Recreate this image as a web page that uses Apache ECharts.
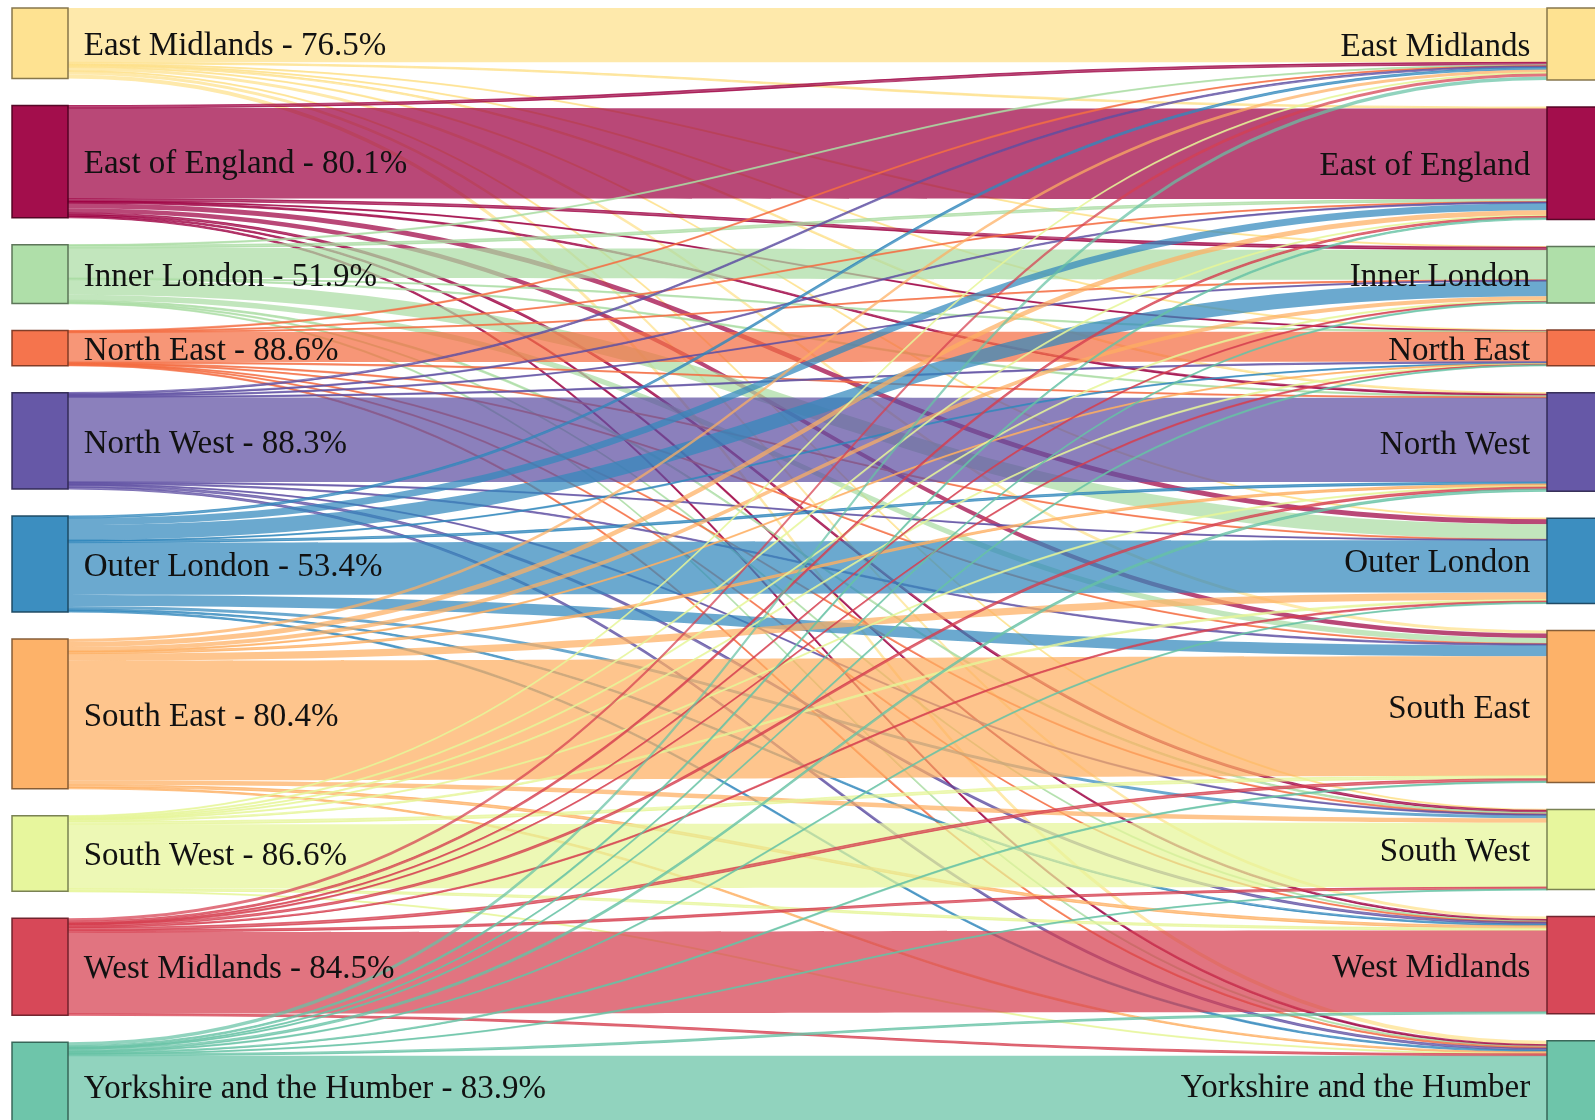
<!DOCTYPE html>
<html><head><meta charset="utf-8">
<script src="https://cdn.jsdelivr.net/npm/echarts@6/dist/echarts.min.js"></script>
<style>html,body{margin:0;padding:0;background:#fff;overflow:hidden}#c{width:1595px;height:1120px}</style>
</head><body><div id="c"></div>
<script>
// Regions (same order on both sides)
const regions = ['East Midlands','East of England','Inner London','North East','North West',
  'Outer London','South East','South West','West Midlands','Yorkshire and the Humber'];
// Share staying in the same region (left labels)
const stayShare = ['76.5%','80.1%','51.9%','88.6%','88.3%','53.4%','80.4%','86.6%','84.5%','83.9%'];
const regionColors = ['#fee08b','#9e0142','#abdda4','#f46d43','#5e4fa2','#3288bd','#fdae61','#e6f598','#d53e4f','#66c2a5'];

// Flows from each region to: EM, EoE, IL, NE, NW, OL, SE, SW, WM, YH
const fromEastMidlands  = [54, 1.5, 0.7, 0.5, 1.5, 1, 3, 1, 3, 4];
const fromEastOfEngland = [2.5, 90, 2.5, 0.7, 1.5, 5, 4.5, 2, 1.5, 1.5];
const fromInnerLondon   = [0.7, 2.5, 30, 0.5, 1.2, 15, 5.5, 1.5, 0.8, 0.9];
const fromNorthEast     = [0.5, 0.5, 0.4, 30, 0.8, 0.3, 0.5, 0.3, 0.4, 1.2];
const fromNorthWest     = [1.5, 1.2, 1, 1.2, 84, 0.8, 1.3, 1, 2, 2];
const fromOuterLondon   = [2, 7, 15, 0.5, 2, 52, 11, 3, 1.5, 1.5];
const fromSouthEast     = [3, 5, 4, 0.6, 2, 7, 119, 4.5, 2.5, 1.5];
const fromSouthWest     = [1, 1, 1, 0.2, 1, 1.5, 2.8, 64, 2.2, 0.5];
const fromWestMidlands  = [3, 1.8, 0.8, 0.4, 2, 1.3, 2.5, 2, 81, 1.8];
const fromYorkshire     = [3.5, 1.5, 0.8, 1, 2, 1, 1.2, 0.5, 1.8, 74];

const flows = [fromEastMidlands, fromEastOfEngland, fromInnerLondon, fromNorthEast, fromNorthWest,
  fromOuterLondon, fromSouthEast, fromSouthWest, fromWestMidlands, fromYorkshire];

function darker(hex, k) {
  const n = parseInt(hex.slice(1), 16);
  const r = Math.round(((n >> 16) & 255) * k), g = Math.round(((n >> 8) & 255) * k), b = Math.round((n & 255) * k);
  return 'rgb(' + r + ',' + g + ',' + b + ')';
}

const font = "'Liberation Serif','Times New Roman',serif";
const nodes = [];
regions.forEach((r, i) => {
  nodes.push({
    name: 'L|' + r, depth: 0,
    itemStyle: { color: regionColors[i], borderColor: darker(regionColors[i], 0.5), borderWidth: 1.5, opacity: 0.95 },
    label: { position: 'right', distance: 15, formatter: r + ' - ' + stayShare[i] }
  });
});
regions.forEach((r, i) => {
  nodes.push({
    name: 'R|' + r, depth: 1,
    itemStyle: { color: regionColors[i], borderColor: darker(regionColors[i], 0.5), borderWidth: 1.5, opacity: 0.95 },
    label: { position: 'left', distance: 16, formatter: r }
  });
});
const links = [];
flows.forEach((row, i) => {
  row.forEach((v, j) => {
    const link = { source: 'L|' + regions[i], target: 'R|' + regions[j], value: v };
    if (v < 3) link.lineStyle = { borderColor: regionColors[i], borderWidth: 1.1 };
    links.push(link);
  });
});

const chart = echarts.init(document.getElementById('c'), null, { renderer: 'canvas' });
chart.setOption({
  animation: false,
  backgroundColor: '#ffffff',
  series: [{
    type: 'sankey',
    left: 12, right: -8, top: 8, bottom: -10,
    nodeWidth: 56, nodeGap: 27,
    layoutIterations: 0,
    draggable: false,
    emphasis: { disabled: true },
    data: nodes,
    links: links,
    lineStyle: { color: 'source', opacity: 0.72, curveness: 0.5 },
    label: { color: '#111', fontSize: 33, fontFamily: font, offset: [0, 3] }
  }]
});
</script>
</body></html>
